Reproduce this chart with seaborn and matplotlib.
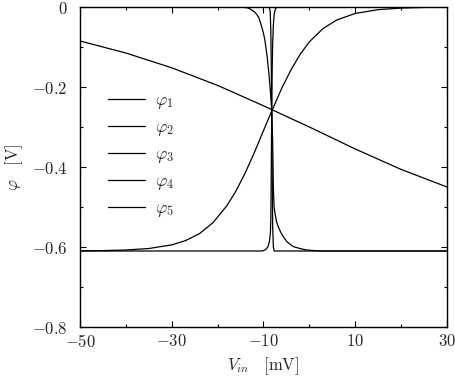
import matplotlib
matplotlib.use("Agg")
import matplotlib.pyplot as plt
import seaborn as sns
import pandas as pd
from matplotlib.ticker import MultipleLocator

# ---- data ----
phi1_v = [-50, -40, -30, -20, -10, 0, 10, 20, 30]
phi1 = [-0.085, -0.115, -0.152, -0.196, -0.247, -0.300, -0.355, -0.406, -0.450]

phi2_v = [-50, -45, -40, -35, -30, -27, -24, -21, -18, -16, -14, -12, -10, -8.2,
          -6, -4, -2, 0, 3, 6, 10, 15, 20, 25, 30]
phi2 = [-0.6096, -0.609, -0.6075, -0.6038, -0.5947, -0.584, -0.567, -0.539, -0.497,
        -0.460, -0.415, -0.364, -0.309, -0.260, -0.2025, -0.157, -0.118, -0.087,
        -0.0537, -0.0323, -0.0161, -0.0066, -0.0027, -0.0011, -0.0004]

phi3_v = [-50, -15, -13.5, -12.9, -12, -11.5, -11, -10.4, -10, -9.7, -9.2, -8.8, -8.5,
          -8.2, -8.0, -7.85, -7.7, -7.5, -7.2, -6.8, -6.2, -5.7, -4.8, -3.5, -2, -0.6,
          2.3, 30]
phi3 = [0, 0, -0.002, -0.005, -0.012, -0.018, -0.027, -0.049, -0.066, -0.083, -0.124,
        -0.17, -0.21, -0.26, -0.34, -0.45, -0.50, -0.515, -0.535, -0.549, -0.564,
        -0.574, -0.588, -0.599, -0.604, -0.6075, -0.61, -0.61]

phi4_v = [-50, -10.5, -10, -9.5, -9, -8.7, -8.5, -8.4, -8.3, -8.21, -8.1, -8.0, -7.85,
          -7.66, -7.4, -7.1, 30]
phi4 = [-0.61, -0.61, -0.609, -0.606, -0.599, -0.585, -0.566, -0.53, -0.40, -0.26,
        -0.15, -0.09, -0.045, -0.016, -0.005, 0, 0]

phi5_v = [-50, -8.75, -8.55, -8.4, -8.3, -8.21, -8.12, -8.0, -7.85, -7.65, 30]
phi5 = [0, 0, -0.01, -0.06, -0.15, -0.26, -0.40, -0.55, -0.60, -0.61, -0.61]

labels = [r'$\varphi_1$', r'$\varphi_2$', r'$\varphi_3$', r'$\varphi_4$', r'$\varphi_5$']
xs = [phi1_v, phi2_v, phi3_v, phi4_v, phi5_v]
ys = [phi1, phi2, phi3, phi4, phi5]

x_ticks = [-50, -30, -10, 10, 30]
y_ticks = [-0.8, -0.6, -0.4, -0.2, 0]
y_tick_labels = [r'$-0.8$', r'$-0.6$', r'$-0.4$', r'$-0.2$', r'$0$']
x_tick_labels = [r'$-50$', r'$-30$', r'$-10$', r'$10$', r'$30$']

# ---- style ----
sns.set_theme(style="ticks")
plt.rcParams['font.family'] = ['serif']
plt.rcParams['font.serif'] = ['cmr10', 'DejaVu Serif']
plt.rcParams['mathtext.fontset'] = 'cm'
plt.rcParams['axes.unicode_minus'] = False

fig = plt.figure(figsize=(4.56, 3.79), dpi=100)
ax = fig.add_axes([80/456, 1 - 327/379, 367/456, 320/379])

for xv, yv, lab in zip(xs, ys, labels):
    df = pd.DataFrame({"V": xv, "phi": yv})
    sns.lineplot(data=df, x="V", y="phi", ax=ax, color="black", linewidth=0.9,
                 label=lab, sort=False)

ax.set_xlim(-50, 30)
ax.set_ylim(-0.8, 0)
ax.set_xticks(x_ticks)
ax.set_xticklabels(x_tick_labels)
ax.set_yticks(y_ticks)
ax.set_yticklabels(y_tick_labels)
ax.xaxis.set_minor_locator(MultipleLocator(10))
ax.yaxis.set_minor_locator(MultipleLocator(0.1))
ax.tick_params(which='both', direction='in', top=True, right=True,
               labelsize=12, color='black', width=0.8)
ax.tick_params(which='major', length=4)
ax.tick_params(which='minor', length=2)
ax.tick_params(axis='y', which='major', pad=9)
ax.tick_params(axis='x', which='major', pad=4)
for s in ax.spines.values():
    s.set_linewidth(1.0)
    s.set_color('black')

ax.set_xlabel(r'$V_{in}\ \ \ [\mathrm{mV}]$', fontsize=12, labelpad=4)
ax.set_ylabel(r'$\varphi\ \ \ [\mathrm{V}]$', fontsize=12, labelpad=5)

leg = ax.legend(loc='upper left', bbox_to_anchor=(0.034, 0.78), frameon=False,
                fontsize=12.5, handlelength=2.1, handletextpad=0.6, labelspacing=0.5)

fig.savefig("out.png", dpi=100)
